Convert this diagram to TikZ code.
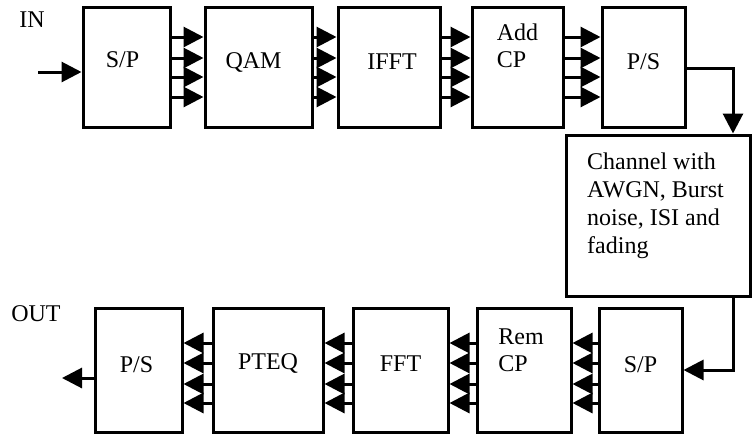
\documentclass[tikz,border=0pt]{standalone}
\usepackage{fontspec}
\setmainfont{Liberation Serif}
\usetikzlibrary{arrows.meta,positioning}
\tikzset{
  block/.style={draw, line width=3pt, minimum height=120pt, inner sep=0pt},
  lbl/.style={font=\fontsize{24}{27}\selectfont, inner sep=0pt, align=left},
  flow/.style={line width=3pt, -{Triangle[length=20pt,width=20pt]}},
}

\begin{document}
\begin{tikzpicture}[x=1pt,y=-1pt]
\useasboundingbox (0,0) rectangle (752,434);

% transmitter chain
\node[block, minimum width=87pt] (sp1) at (126.5,67) {};
\node[block, minimum width=107pt] (qam) at (258.5,67) {};
\node[block, minimum width=102pt] (ifft) at (389,67) {};
\node[block, minimum width=91pt] (addcp) at (517.5,67) {};
\node[block, minimum width=83pt] (ps1) at (643.5,67) {};
\node[lbl] (tsp1) at ([xshift=-4pt,yshift=7pt]sp1.center) {S/P};
\node[lbl] (tqam) at ([xshift=-5pt,yshift=5pt]qam.center) {QAM};
\node[lbl] (tifft) at ([xshift=3pt,yshift=5pt]ifft.center) {IFFT};
\node[lbl] (taddcp) at ([yshift=21pt]addcp.center) {Add\\CP};
\node[lbl] (tps1) at ([yshift=5pt]ps1.center) {P/S};

% channel
\node[draw, line width=3pt, minimum width=184pt, minimum height=161pt] (chan) at (658,215.5) {};
\node[lbl, anchor=north west, font=\fontsize{24}{28}\selectfont] (tchan) at (587,153) {Channel with\\AWGN, Burst\\noise, ISI and\\fading};

% receiver chain
\node[block, minimum width=87pt, minimum height=124pt] (ps2) at (138.5,370) {};
\node[block, minimum width=110pt, minimum height=124pt] (pteq) at (268,370) {};
\node[block, minimum width=95pt, minimum height=124pt] (fft) at (400.5,370) {};
\node[block, minimum width=94pt, minimum height=124pt] (remcp) at (524,370) {};
\node[block, minimum width=83pt, minimum height=124pt] (sp2) at (640.5,370) {};
\node[lbl] (tps2) at ([xshift=-2pt,yshift=5pt]ps2.center) {P/S};
\node[lbl] (tpteq) at ([yshift=7pt]pteq.center) {PTEQ};
\node[lbl] (tfft) at ([yshift=6pt]fft.center) {FFT};
\node[lbl] (tremcp) at ([xshift=-3pt,yshift=20pt]remcp.center) {Rem\\CP};
\node[lbl] (tsp2) at ([yshift=5pt]sp2.center) {S/P};

% labels
\node[lbl] (lin) at (32,20) {IN};
\node[lbl] (lout) at (36,314) {OUT};

% connectors
\coordinate (in) at (38,72);
\coordinate (out) at (62,378);
\coordinate (bend) at (733,68);
\draw[flow] (in) -- (sp1.west |- in);
\foreach \a/\b in {sp1/qam, qam/ifft, ifft/addcp, addcp/ps1}
  \foreach \y in {37,58,77,97}
    \draw[flow] (\a.east |- 0,\y) -- (\b.west |- 0,\y);
\draw[flow] (ps1.east |- bend) -- (bend) -- (bend |- chan.north);
\draw[flow] (bend |- chan.south) |- (sp2.east);
\foreach \a/\b in {sp2/remcp, remcp/fft, fft/pteq, pteq/ps2}
  \foreach \y in {343,363,384,403}
    \draw[flow] (\a.west |- 0,\y) -- (\b.east |- 0,\y);
\draw[flow] (ps2.west |- out) -- (out);
\end{tikzpicture}
\end{document}
